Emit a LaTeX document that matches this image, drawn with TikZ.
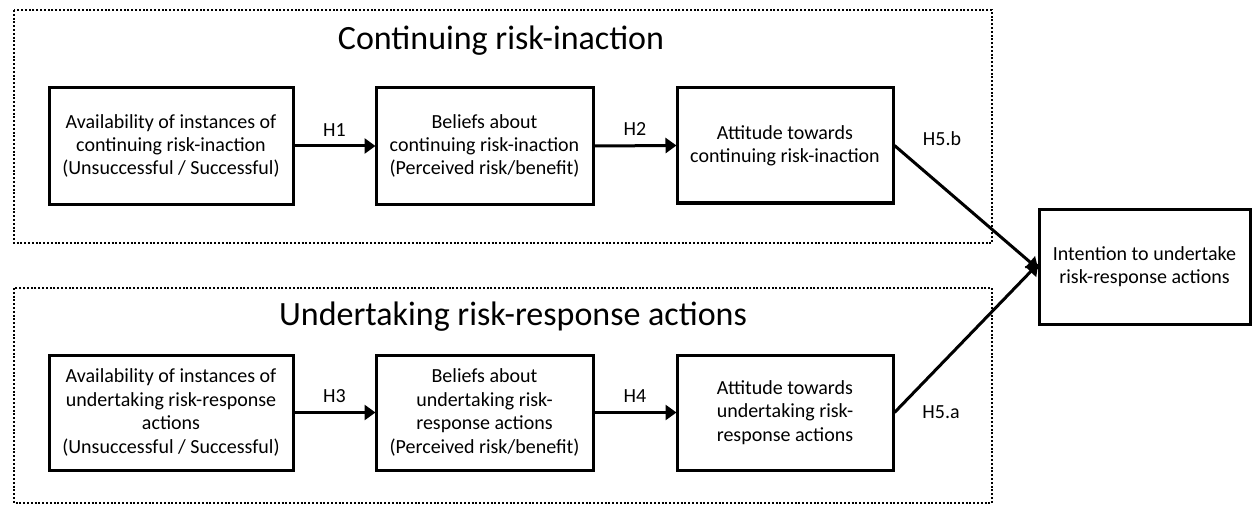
\documentclass[tikz,border=0pt]{standalone}
\usepackage{fontspec}
\setmainfont{Carlito}
\usetikzlibrary{arrows.meta}
\begin{document}
\begin{tikzpicture}[x=1pt,y=-1pt,
  box/.style={draw=black, line width=3pt, align=center, inner sep=2pt,
    font=\fontsize{20}{23.4}\selectfont, text=black},
  group/.style={draw=black, line width=2.6pt, dash pattern=on 2pt off 1.8pt},
  conn/.style={line width=3pt, -{Triangle[length=11pt,width=15pt]}, shorten >=-1pt},
  hlab/.style={font=\fontsize{20}{22}\selectfont, text=black},
  title/.style={font=\fontsize{34}{38}\selectfont, text=black}]
\useasboundingbox (0,0) rectangle (1252,505);
% group frames
\draw[group] (14,10) rectangle (992,243);
\draw[group] (14,288) rectangle (992,503);
\node[title] (t1) at (501,41) {Continuing risk-inaction};
\node[title] (t2) at (513,317) {Undertaking risk-response actions};
% top row
\node[box, minimum width=244pt, minimum height=116pt] (a1) at (171,146)
  {Availability of instances of\\continuing risk-inaction\\(Unsuccessful / Successful)};
\node[box, minimum width=217pt, minimum height=116pt] (b1) at (484.5,146)
  {Beliefs about\\continuing risk-inaction\\(Perceived risk/benefit)};
\node[box, minimum width=216pt, minimum height=115pt] (c1) at (785,145.5)
  {Attitude towards\\continuing risk-inaction};
% bottom row
\node[box, minimum width=244pt, minimum height=115pt] (a2) at (171,412.5)
  {Availability of instances of\\undertaking risk-response\\actions\\(Unsuccessful / Successful)};
\node[box, minimum width=217pt, minimum height=115pt] (b2) at (484.5,412.5)
  {Beliefs about\\undertaking risk-\\response actions\\(Perceived risk/benefit)};
\node[box, minimum width=216pt, minimum height=115pt] (c2) at (785,412.5)
  {Attitude towards\\undertaking risk-\\response actions};
% outcome
\node[box, minimum width=211pt, minimum height=115pt] (d) at (1144.5,266.5)
  {Intention to undertake\\risk-response actions};
% connectors
\draw[conn] (a1.east) -- node[hlab, above=5pt] (h1) {H1} (b1.west);
\draw[conn] (b1.east) -- node[hlab, above=5pt] (h2) {H2} (c1.west);
\draw[conn] (a2.east) -- node[hlab, above=5pt] (h3) {H3} (b2.west);
\draw[conn] (b2.east) -- node[hlab, above=5pt] (h4) {H4} (c2.west);
\coordinate (dtop) at ([yshift=-2pt]d.west);
\coordinate (dbot) at ([yshift=2pt]d.west);
\draw[conn] (c1.east) -- (dtop);
\draw[conn] (c2.east) -- (dbot);
\node[hlab] (h5b) at (942,139) {H5.b};
\node[hlab] (h5a) at (941,412) {H5.a};
\end{tikzpicture}
\end{document}
